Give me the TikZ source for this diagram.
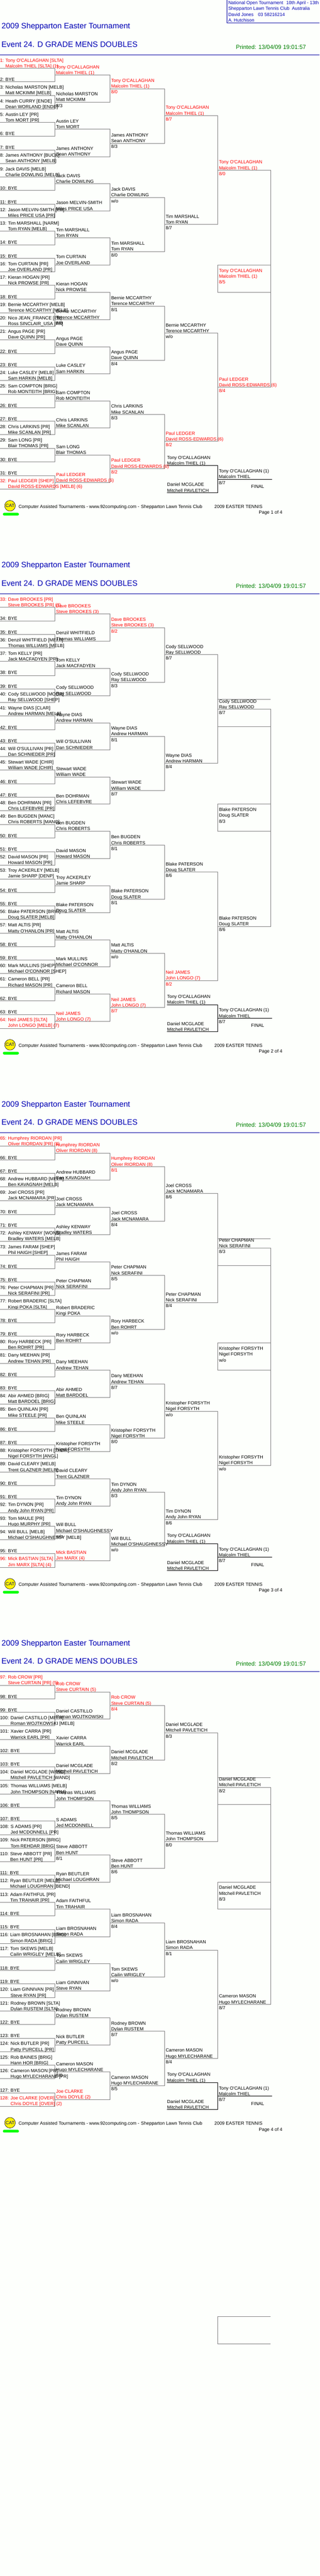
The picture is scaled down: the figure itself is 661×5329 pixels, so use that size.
\documentclass[tikz,border=0pt]{standalone}
\usepackage{fontspec}
\newfontfamily\arialfam{Liberation Sans}
\definecolor{bgc}{HTML}{FDFFFC}
\definecolor{wirec}{HTML}{808080}
\definecolor{headc}{HTML}{0000B4}
\definecolor{rulec}{HTML}{0000A0}
\definecolor{printc}{HTML}{008000}
\definecolor{catc}{HTML}{000080}
\definecolor{barc}{HTML}{00FF00}
\definecolor{redc}{HTML}{FF0000}
\tikzset{
 nm/.style={inner sep=0pt,outer sep=0pt,anchor=base west,font=\arialfam\fontsize{9.5}{12}\selectfont},
 ttl/.style={inner sep=0pt,outer sep=0pt,anchor=base west,text=headc,font=\arialfam\fontsize{16.2}{20}\selectfont},
 prn/.style={inner sep=0pt,outer sep=0pt,anchor=base west,text=printc,font=\arialfam\fontsize{12.2}{14}\selectfont},
 hdr/.style={nm,text=headc},
 wire/.style={draw=wirec,line width=1pt},
 blk/.style={draw=black,line width=1pt},
 hrule/.style={draw=rulec,line width=1pt},
}
\newcounter{slot1}\newcounter{slot2}\newcounter{slot3}\newcounter{slot4}\newcounter{slot5}
\def\EY{{136.7,164.7,192.7,220.7,248.7,276.7,304.7,332.7,361.7,389.7,417.7,445.7,473.7,501.7,529.7,557.7,585.7,613.7,641.7,669.7,697.7,726.7,754.7,782.7,810.7,838.7,866.7,894.7,922.7,950.7,978.7,1006.7}}
\expandafter\def\csname RY1\endcsname{{141.3,169.3,197.3,225.3,253.3,282.3,310.3,338.3,366.3,394.3,422.3,450.3,478.3,506.3,534.3,562.3,590.3,618.3,647.3,675.3,703.3,731.3,759.3,787.3,815.3,843.3,871.3,899.3,927.3,955.3,984.3,1012.3}}
\expandafter\def\csname RY2\endcsname{{155.3,211.3,267.3,324.3,380.3,436.3,492.3,548.3,604.3,661.3,717.3,773.3,829.3,885.3,941.3,998.3}}
\expandafter\def\csname RY3\endcsname{{183.3,296.3,408.3,520.3,633.3,745.3,857.3,969.3}}
\expandafter\def\csname RY4\endcsname{{239.3,464.3,689.3,913.3}}
\expandafter\def\csname RY5\endcsname{{352.3,801.3}}
\def\XA{113.4}\def\XB{227.7}\def\XC{340.2}\def\XD{450.2}\def\XE{560.3}
\expandafter\def\csname XS1\endcsname{0}\expandafter\def\csname XE1\endcsname{\XA}
\expandafter\def\csname XS2\endcsname{\XA}\expandafter\def\csname XE2\endcsname{\XB}\expandafter\def\csname TX2\endcsname{116}
\expandafter\def\csname XS3\endcsname{\XB}\expandafter\def\csname XE3\endcsname{\XC}\expandafter\def\csname TX3\endcsname{230}
\expandafter\def\csname XS4\endcsname{\XC}\expandafter\def\csname XE4\endcsname{\XD}\expandafter\def\csname TX4\endcsname{342.7}
\expandafter\def\csname XS5\endcsname{\XD}\expandafter\def\csname XE5\endcsname{\XE}\expandafter\def\csname TX5\endcsname{453}
% one bracket slot: the line of a slot; every second slot closes the bracket
\newcommand{\SlotLine}[1]{%
 \coordinate (here s) at (\csname XS#1\endcsname,\yL);
 \coordinate (here e) at (\csname XE#1\endcsname,\yL);
 \ifodd\value{slot#1}\relax
  \coordinate (top s#1) at (here s);\coordinate (top e#1) at (here e);
 \else
  \draw[wire] (top s#1) -- (top e#1) -- (here e) -- (here s);
 \fi}
\newcommand{\GetY}[1]{\stepcounter{slot#1}%
 \expandafter\let\expandafter\tmparr\csname RY#1\endcsname
 \pgfmathsetmacro\yL{\tmparr[\the\value{slot#1}-1]}}
\newcommand{\Ent}[4]{% colour, number, name 1, name 2
 \GetY{1}\SlotLine{1}%
 \pgfmathsetmacro\yT{\EY[\the\value{slot1}-1]}%
 \node[nm,text=#1] (e#2a) at (0,{\yT-8.6}) {#2: #3};
 \node[nm,text=#1] (e#2b) at (0,{\yT+3.4}) {\hphantom{#2: }#4};}
\newcommand{\Bye}[1]{%
 \GetY{1}\SlotLine{1}%
 \pgfmathsetmacro\yT{\EY[\the\value{slot1}-1]}%
 \node[nm] (e#1a) at (0,{\yT+3.4}) {#1: BYE};}
\newcommand{\Win}[5]{% round, colour, name 1, name 2, score
 \GetY{#1}\SlotLine{#1}%
 \edef\tx{\csname TX#1\endcsname}%
 \edef\nn{r#1p\pgno n\the\value{slot#1}}%
 \node[nm,text=#2] (\nn a) at (\tx,{\yL-13.4}) {#3};
 \node[nm,text=#2] (\nn b) at (\tx,{\yL-1.4}) {#4};
 \def\tmps{#5}\ifx\tmps\empty\else\node[nm,text=#2] (\nn s) at (\tx,{\yL+10.6}) {#5};\fi}
\newcommand{\Semi}[4]{%
 \coordinate (semi tl) at (\XD,548.3);\coordinate (semi tr) at (\XE,548.3);
 \coordinate (semi bl) at (\XD,604.3);\coordinate (semi br) at (\XE,604.3);
 \draw[wire] (semi tr) -- (semi tl) -- (semi bl) -- (semi br);
 \node[nm,text=#1] (semi\pgno a) at (453,563.1) {#2};
 \node[nm,text=#1] (semi\pgno b) at (453,575.1) {#3};
 \node[nm,text=#1] (semi\pgno s) at (453,587.1) {#4};}
\newcommand{\Stray}{%
 \coordinate (stray tl) at (\XD,332.3);\coordinate (stray tr) at (559.9,332.3);
 \coordinate (stray bl) at (\XD,388.3);\coordinate (stray br) at (\XE,388.3);
 \draw[wire] (stray tr) -- (stray tl) (stray bl) -- (stray br);}
\newcommand{\Frame}[1]{% common page furniture; #1 = page number
 \def\pgno{#1}%
 \setcounter{slot1}{0}\setcounter{slot2}{0}\setcounter{slot3}{0}\setcounter{slot4}{0}\setcounter{slot5}{0}%
 \node[ttl] (title#1) at (3.4,59.4) {2009 Shepparton Easter Tournament};
 \node[ttl] (event#1) at (3,97.2) {Event 24. D GRADE MENS DOUBLES};
 \node[prn] (print#1) at (488,101.6) {Printed: 13/04/09 19:01:57};
 \coordinate (rule l) at (0,113.3);\coordinate (rule r) at (661,113.3);
 \draw[hrule] (rule l) -- (rule r);
 % final block
 \node[nm] (fa#1) at (345.7,950.1) {Tony O'CALLAGHAN};
 \node[nm] (fb#1) at (345.7,962.1) {Malcolm THIEL (1)};
 \node[nm] (fc#1) at (345.7,1006.1) {Daniel MCGLADE};
 \node[nm] (fd#1) at (345.7,1018.1) {Mitchell PAVLETICH};
 \node[nm] (fe#1) at (452.8,978.1) {Tony O'CALLAGHAN (1)};
 \node[nm] (ff#1) at (452.8,990.1) {Malcolm THIEL};
 \node[nm] (fg#1) at (452.8,1002.1) {8/7};
 \node[nm] (fh#1) at (519.4,1010.1) {FINAL};
 \coordinate (fin a) at (345.7,963.3);\coordinate (fin b) at (\XD,963.3);
 \coordinate (fin c) at (\XD,1019.3);\coordinate (fin d) at (345.7,1019.3);
 \coordinate (fin e) at (\XD,991.3);\coordinate (fin f) at (562.8,991.3);
 \draw[blk] (fin a) -- (fin b) -- (fin c) -- (fin d);
 \draw[blk] (fin e) -- (fin f);
 % footer
 \fill[barc,rounded corners=2.8pt] (5.9,1060.9) rectangle (39.2,1066.5);
 \node[circle,draw=black,fill=yellow,line width=0.6pt,minimum size=22pt,inner sep=0pt,text=catc,font=\arialfam\fontsize{9.5}{12}\selectfont] (cat#1) at (20.7,1046.3) {CAT};
 \node[nm] (fta#1) at (38.4,1051.1) {Computer Assisted Tournaments - www.92computing.com -};
 \node[nm] (ftb#1) at (291.7,1051.1) {Shepparton Lawn Tennis Club};
 \node[nm] (ftc#1) at (443.5,1051.1) {2009 EASTER TENNIS};
 \node[nm] (ftd#1) at (535.4,1063.1) {Page #1 of 4};
}
\begin{document}
\begin{tikzpicture}[x=1pt,y=-1pt]
\useasboundingbox (0,0) rectangle (661,5329);
\fill[bgc] (0,0) rectangle (661,5329);
% ---------- top box
\coordinate (box a) at (469.6,0);\coordinate (box b) at (469.6,47.7);\coordinate (box c) at (661,47.7);
\draw[hrule] (box a) -- (box b) -- (box c);
\node[hdr] (tb1) at (472.2,9.1) {National Open Tournament};
\node[hdr] (tb1b) at (592.3,9.1) {10th April - 13th};
\node[hdr] (tb2) at (472.2,21.1) {Shepparton Lawn Tennis Club};
\node[hdr] (tb2b) at (604,21.1) {Australia};
\node[hdr] (tb3) at (472.2,33.1) {David Jones};
\node[hdr] (tb3b) at (533.7,33.1) {03 58216214};
\node[hdr] (tb4) at (472.2,45.1) {A. Hutchison};
% ---------- PAGE 1
\begin{scope}
\Frame{1}
\Ent{redc}{1}{Tony O'CALLAGHAN [SLTA]}{Malcolm THIEL [SLTA] (1)}
\Bye{2}
\Ent{black}{3}{Nicholas MARSTON [MELB]}{Matt MCKIMM [MELB]}
\Ent{black}{4}{Heath CURRY [ENDE]}{Dean WORLAND [ENDE]}
\Ent{black}{5}{Austin LEY [PR]}{Tom MORT [PR]}
\Bye{6}
\Bye{7}
\Ent{black}{8}{James ANTHONY [BUCK]}{Sean ANTHONY [MELB]}
\Ent{black}{9}{Jack DAVIS [MELB]}{Charlie DOWLING [MELB]}
\Bye{10}
\Bye{11}
\Ent{black}{12}{Jason MELVIN-SMITH [PR]}{Miles PRICE USA [PR]}
\Ent{black}{13}{Tim MARSHALL [NARM]}{Tom RYAN [MELB]}
\Bye{14}
\Bye{15}
\Ent{black}{16}{Tom CURTAIN [PR]}{Joe OVERLAND [PR]}
\Ent{black}{17}{Kieran HOGAN [PR]}{Nick PROWSE [PR]}
\Bye{18}
\Ent{black}{19}{Bernie MCCARTHY [MELB]}{Terence MCCARTHY [MELB]}
\Ent{black}{20}{Nico JEAN\_FRANCE [PR]}{Ross SINCLAIR\_USA [PR]}
\Ent{black}{21}{Angus PAGE [PR]}{Dave QUINN [PR]}
\Bye{22}
\Bye{23}
\Ent{black}{24}{Luke CASLEY [MELB]}{Sam HARKIN [MELB]}
\Ent{black}{25}{Sam COMPTON [BRIG]}{Rob MONTEITH [BRIG]}
\Bye{26}
\Bye{27}
\Ent{black}{28}{Chris LARKINS [PR]}{Mike SCANLAN [PR]}
\Ent{black}{29}{Sam LONG [PR]}{Blair THOMAS [PR]}
\Bye{30}
\Bye{31}
\Ent{redc}{32}{Paul LEDGER [SHEP]}{David ROSS-EDWARDS [MELB] (6)}
\Win{2}{redc}{Tony O'CALLAGHAN}{Malcolm THIEL (1)}{}
\Win{2}{black}{Nicholas MARSTON}{Matt MCKIMM}{8/3}
\Win{2}{black}{Austin LEY}{Tom MORT}{}
\Win{2}{black}{James ANTHONY}{Sean ANTHONY}{}
\Win{2}{black}{Jack DAVIS}{Charlie DOWLING}{}
\Win{2}{black}{Jason MELVIN-SMITH}{Miles PRICE USA}{}
\Win{2}{black}{Tim MARSHALL}{Tom RYAN}{}
\Win{2}{black}{Tom CURTAIN}{Joe OVERLAND}{}
\Win{2}{black}{Kieran HOGAN}{Nick PROWSE}{}
\Win{2}{black}{Bernie MCCARTHY}{Terence MCCARTHY}{8/0}
\Win{2}{black}{Angus PAGE}{Dave QUINN}{}
\Win{2}{black}{Luke CASLEY}{Sam HARKIN}{}
\Win{2}{black}{Sam COMPTON}{Rob MONTEITH}{}
\Win{2}{black}{Chris LARKINS}{Mike SCANLAN}{}
\Win{2}{black}{Sam LONG}{Blair THOMAS}{}
\Win{2}{redc}{Paul LEDGER}{David ROSS-EDWARDS (6)}{}
\Win{3}{redc}{Tony O'CALLAGHAN}{Malcolm THIEL (1)}{8/0}
\Win{3}{black}{James ANTHONY}{Sean ANTHONY}{8/3}
\Win{3}{black}{Jack DAVIS}{Charlie DOWLING}{w/o}
\Win{3}{black}{Tim MARSHALL}{Tom RYAN}{8/0}
\Win{3}{black}{Bernie MCCARTHY}{Terence MCCARTHY}{8/1}
\Win{3}{black}{Angus PAGE}{Dave QUINN}{8/4}
\Win{3}{black}{Chris LARKINS}{Mike SCANLAN}{8/3}
\Win{3}{redc}{Paul LEDGER}{David ROSS-EDWARDS (6)}{8/2}
\Win{4}{redc}{Tony O'CALLAGHAN}{Malcolm THIEL (1)}{8/7}
\Win{4}{black}{Tim MARSHALL}{Tom RYAN}{8/7}
\Win{4}{black}{Bernie MCCARTHY}{Terence MCCARTHY}{w/o}
\Win{4}{redc}{Paul LEDGER}{David ROSS-EDWARDS (6)}{8/2}
\Win{5}{redc}{Tony O'CALLAGHAN}{Malcolm THIEL (1)}{8/0}
\Win{5}{redc}{Paul LEDGER}{David ROSS-EDWARDS (6)}{8/4}
\Semi{redc}{Tony O'CALLAGHAN}{Malcolm THIEL (1)}{8/5}
\end{scope}
% ---------- PAGE 2
\begin{scope}[yshift=-1115pt]
\Frame{2}\Stray
\Ent{redc}{33}{Dave BROOKES [PR]}{Steve BROOKES [PR] (3)}
\Bye{34}
\Bye{35}
\Ent{black}{36}{Denzil WHITFIELD [MELB]}{Thomas WILLIAMS [MELB]}
\Ent{black}{37}{Tom KELLY [PR]}{Jack MACFADYEN [PR]}
\Bye{38}
\Bye{39}
\Ent{black}{40}{Cody SELLWOOD [MOOR]}{Ray SELLWOOD [SHEP]}
\Ent{black}{41}{Wayne DIAS [CLAR]}{Andrew HARMAN [MELB]}
\Bye{42}
\Bye{43}
\Ent{black}{44}{Will O'SULLIVAN [PR]}{Dan SCHNIEDER [PR]}
\Ent{black}{45}{Stewart WADE [CHIR]}{William WADE [CHIR]}
\Bye{46}
\Bye{47}
\Ent{black}{48}{Ben DOHRMAN [PR]}{Chris LEFEBVRE [PR]}
\Ent{black}{49}{Ben BUGDEN [MANC]}{Chris ROBERTS [MANC]}
\Bye{50}
\Bye{51}
\Ent{black}{52}{David MASON [PR]}{Howard MASON [PR]}
\Ent{black}{53}{Troy ACKERLEY [MELB]}{Jamie SHARP [DENP]}
\Bye{54}
\Bye{55}
\Ent{black}{56}{Blake PATERSON [BRIG]}{Doug SLATER [MELB]}
\Ent{black}{57}{Matt ALTIS [PR]}{Matty O'HANLON [PR]}
\Bye{58}
\Bye{59}
\Ent{black}{60}{Mark MULLINS [SHEP]}{Michael O'CONNOR [SHEP]}
\Ent{black}{61}{Cameron BELL [PR]}{Richard MASON [PR]}
\Bye{62}
\Bye{63}
\Ent{redc}{64}{Neil JAMES [SLTA]}{John LONGO [MELB] (7)}
\Win{2}{redc}{Dave BROOKES}{Steve BROOKES (3)}{}
\Win{2}{black}{Denzil WHITFIELD}{Thomas WILLIAMS}{}
\Win{2}{black}{Tom KELLY}{Jack MACFADYEN}{}
\Win{2}{black}{Cody SELLWOOD}{Ray SELLWOOD}{}
\Win{2}{black}{Wayne DIAS}{Andrew HARMAN}{}
\Win{2}{black}{Will O'SULLIVAN}{Dan SCHNIEDER}{}
\Win{2}{black}{Stewart WADE}{William WADE}{}
\Win{2}{black}{Ben DOHRMAN}{Chris LEFEBVRE}{}
\Win{2}{black}{Ben BUGDEN}{Chris ROBERTS}{}
\Win{2}{black}{David MASON}{Howard MASON}{}
\Win{2}{black}{Troy ACKERLEY}{Jamie SHARP}{}
\Win{2}{black}{Blake PATERSON}{Doug SLATER}{}
\Win{2}{black}{Matt ALTIS}{Matty O'HANLON}{}
\Win{2}{black}{Mark MULLINS}{Michael O'CONNOR}{}
\Win{2}{black}{Cameron BELL}{Richard MASON}{}
\Win{2}{redc}{Neil JAMES}{John LONGO (7)}{}
\Win{3}{redc}{Dave BROOKES}{Steve BROOKES (3)}{8/2}
\Win{3}{black}{Cody SELLWOOD}{Ray SELLWOOD}{8/3}
\Win{3}{black}{Wayne DIAS}{Andrew HARMAN}{8/1}
\Win{3}{black}{Stewart WADE}{William WADE}{8/7}
\Win{3}{black}{Ben BUGDEN}{Chris ROBERTS}{8/1}
\Win{3}{black}{Blake PATERSON}{Doug SLATER}{8/1}
\Win{3}{black}{Matt ALTIS}{Matty O'HANLON}{w/o}
\Win{3}{redc}{Neil JAMES}{John LONGO (7)}{8/7}
\Win{4}{black}{Cody SELLWOOD}{Ray SELLWOOD}{8/7}
\Win{4}{black}{Wayne DIAS}{Andrew HARMAN}{8/4}
\Win{4}{black}{Blake PATERSON}{Doug SLATER}{8/6}
\Win{4}{redc}{Neil JAMES}{John LONGO (7)}{8/2}
\Win{5}{black}{Cody SELLWOOD}{Ray SELLWOOD}{8/7}
\Win{5}{black}{Blake PATERSON}{Doug SLATER}{8/6}
\Semi{black}{Blake PATERSON}{Doug SLATER}{8/3}
\end{scope}
% ---------- PAGE 3
\begin{scope}[yshift=-2230pt]
\Frame{3}\Stray
\Ent{redc}{65}{Humphrey RIORDAN [PR]}{Oliver RIORDAN [PR] (8)}
\Bye{66}
\Bye{67}
\Ent{black}{68}{Andrew HUBBARD [MELB]}{Ben KAVAGNAH [MELB]}
\Ent{black}{69}{Joel CROSS [PR]}{Jack MCNAMARA [PR]}
\Bye{70}
\Bye{71}
\Ent{black}{72}{Ashley KENWAY [WONS]}{Bradley WATERS [MELB]}
\Ent{black}{73}{James FARAM [SHEP]}{Phil HAIGH [SHEP]}
\Bye{74}
\Bye{75}
\Ent{black}{76}{Peter CHAPMAN [PR]}{Nick SERAFINI [PR]}
\Ent{black}{77}{Robert BRADERIC [SLTA]}{Kingi POKA [SLTA]}
\Bye{78}
\Bye{79}
\Ent{black}{80}{Rory HARBECK [PR]}{Ben ROHRT [PR]}
\Ent{black}{81}{Dany MEEHAN [PR]}{Andrew TEHAN [PR]}
\Bye{82}
\Bye{83}
\Ent{black}{84}{Abir AHMED [BRIG]}{Matt BARDOEL [BRIG]}
\Ent{black}{85}{Ben QUINLAN [PR]}{Mike STEELE [PR]}
\Bye{86}
\Bye{87}
\Ent{black}{88}{Kristopher FORSYTH [THOR]}{Nigel FORSYTH [ANGL]}
\Ent{black}{89}{David CLEARY [MELB]}{Trent GLAZNER [MELB]}
\Bye{90}
\Bye{91}
\Ent{black}{92}{Tim DYNON [PR]}{Andy  John RYAN [PR]}
\Ent{black}{93}{Tom MAULE [PR]}{Hugo MURPHY [PR]}
\Ent{black}{94}{Will BULL [MELB]}{Michael O'SHAUGHNESSY [MELB]}
\Bye{95}
\Ent{redc}{96}{Mick BASTIAN [SLTA]}{Jim MARX [SLTA] (4)}
\Win{2}{redc}{Humphrey RIORDAN}{Oliver RIORDAN (8)}{}
\Win{2}{black}{Andrew HUBBARD}{Ben KAVAGNAH}{}
\Win{2}{black}{Joel CROSS}{Jack MCNAMARA}{}
\Win{2}{black}{Ashley KENWAY}{Bradley WATERS}{}
\Win{2}{black}{James FARAM}{Phil HAIGH}{}
\Win{2}{black}{Peter CHAPMAN}{Nick SERAFINI}{}
\Win{2}{black}{Robert BRADERIC}{Kingi POKA}{}
\Win{2}{black}{Rory HARBECK}{Ben ROHRT}{}
\Win{2}{black}{Dany MEEHAN}{Andrew TEHAN}{}
\Win{2}{black}{Abir AHMED}{Matt BARDOEL}{}
\Win{2}{black}{Ben QUINLAN}{Mike STEELE}{}
\Win{2}{black}{Kristopher FORSYTH}{Nigel FORSYTH}{}
\Win{2}{black}{David CLEARY}{Trent GLAZNER}{}
\Win{2}{black}{Tim DYNON}{Andy  John RYAN}{}
\Win{2}{black}{Will BULL}{Michael O'SHAUGHNESSY}{w/o}
\Win{2}{redc}{Mick BASTIAN}{Jim MARX (4)}{}
\Win{3}{redc}{Humphrey RIORDAN}{Oliver RIORDAN (8)}{8/1}
\Win{3}{black}{Joel CROSS}{Jack MCNAMARA}{8/4}
\Win{3}{black}{Peter CHAPMAN}{Nick SERAFINI}{8/5}
\Win{3}{black}{Rory HARBECK}{Ben ROHRT}{w/o}
\Win{3}{black}{Dany MEEHAN}{Andrew TEHAN}{8/7}
\Win{3}{black}{Kristopher FORSYTH}{Nigel FORSYTH}{8/0}
\Win{3}{black}{Tim DYNON}{Andy  John RYAN}{8/3}
\Win{3}{black}{Will BULL}{Michael O'SHAUGHNESSY}{w/o}
\Win{4}{black}{Joel CROSS}{Jack MCNAMARA}{8/6}
\Win{4}{black}{Peter CHAPMAN}{Nick SERAFINI}{8/4}
\Win{4}{black}{Kristopher FORSYTH}{Nigel FORSYTH}{w/o}
\Win{4}{black}{Tim DYNON}{Andy  John RYAN}{8/6}
\Win{5}{black}{Peter CHAPMAN}{Nick SERAFINI}{8/3}
\Win{5}{black}{Kristopher FORSYTH}{Nigel FORSYTH}{w/o}
\Semi{black}{Kristopher FORSYTH}{Nigel FORSYTH}{w/o}
\end{scope}
% ---------- PAGE 4
\begin{scope}[yshift=-3345pt]
\Frame{4}\Stray
\Ent{redc}{97}{Rob CROW [PR]}{Steve CURTAIN [PR] (5)}
\Bye{98}
\Bye{99}
\Ent{black}{100}{Daniel CASTILLO [MELB]}{Roman WOJTKOWSKI [MELB]}
\Ent{black}{101}{Xavier CARRA [PR]}{Warrick EARL [PR]}
\Bye{102}
\Bye{103}
\Ent{black}{104}{Daniel MCGLADE [WAND]}{Mitchell PAVLETICH [WAND]}
\Ent{black}{105}{Thomas WILLIAMS [MELB]}{John THOMPSON [NARM]}
\Bye{106}
\Bye{107}
\Ent{black}{108}{S ADAMS [PR]}{Jed MCDONNELL [PR]}
\Ent{black}{109}{Nick PATERSON [BRIG]}{Tom REHDAR [BRIG]}
\Ent{black}{110}{Steve ABBOTT [PR]}{Ben HUNT [PR]}
\Bye{111}
\Ent{black}{112}{Ryan BEUTLER [MELB]}{Michael LOUGHRAN [BEND]}
\Ent{black}{113}{Adam FAITHFUL [PR]}{Tim TRAHAIR [PR]}
\Bye{114}
\Bye{115}
\Ent{black}{116}{Liam BROSNAHAN [BRIG]}{Simon RADA [BRIG]}
\Ent{black}{117}{Tom SKEWS [MELB]}{Cailin WRIGLEY [MELB]}
\Bye{118}
\Bye{119}
\Ent{black}{120}{Liam GINNIVAN [PR]}{Steve RYAN [PR]}
\Ent{black}{121}{Rodney BROWN [SLTA]}{Dylan RUSTEM [SLTA]}
\Bye{122}
\Bye{123}
\Ent{black}{124}{Nick BUTLER [PR]}{Patty PURCELL [PR]}
\Ent{black}{125}{Rob BAINES [BRIG]}{Hann HOR [BRIG]}
\Ent{black}{126}{Cameron MASON [PR]}{Hugo MYLECHARANE [PR]}
\Bye{127}
\Ent{redc}{128}{Joe CLARKE [OVER]}{Chris DOYLE [OVER] (2)}
\Win{2}{redc}{Rob CROW}{Steve CURTAIN (5)}{}
\Win{2}{black}{Daniel CASTILLO}{Roman WOJTKOWSKI}{}
\Win{2}{black}{Xavier CARRA}{Warrick EARL}{}
\Win{2}{black}{Daniel MCGLADE}{Mitchell PAVLETICH}{}
\Win{2}{black}{Thomas WILLIAMS}{John THOMPSON}{}
\Win{2}{black}{S ADAMS}{Jed MCDONNELL}{}
\Win{2}{black}{Steve ABBOTT}{Ben HUNT}{8/1}
\Win{2}{black}{Ryan BEUTLER}{Michael LOUGHRAN}{}
\Win{2}{black}{Adam FAITHFUL}{Tim TRAHAIR}{}
\Win{2}{black}{Liam BROSNAHAN}{Simon RADA}{}
\Win{2}{black}{Tom SKEWS}{Cailin WRIGLEY}{}
\Win{2}{black}{Liam GINNIVAN}{Steve RYAN}{}
\Win{2}{black}{Rodney BROWN}{Dylan RUSTEM}{}
\Win{2}{black}{Nick BUTLER}{Patty PURCELL}{}
\Win{2}{black}{Cameron MASON}{Hugo MYLECHARANE}{8/0}
\Win{2}{redc}{Joe CLARKE}{Chris DOYLE (2)}{}
\Win{3}{redc}{Rob CROW}{Steve CURTAIN (5)}{8/4}
\Win{3}{black}{Daniel MCGLADE}{Mitchell PAVLETICH}{8/2}
\Win{3}{black}{Thomas WILLIAMS}{John THOMPSON}{8/5}
\Win{3}{black}{Steve ABBOTT}{Ben HUNT}{8/6}
\Win{3}{black}{Liam BROSNAHAN}{Simon RADA}{8/4}
\Win{3}{black}{Tom SKEWS}{Cailin WRIGLEY}{w/o}
\Win{3}{black}{Rodney BROWN}{Dylan RUSTEM}{8/7}
\Win{3}{black}{Cameron MASON}{Hugo MYLECHARANE}{8/5}
\Win{4}{black}{Daniel MCGLADE}{Mitchell PAVLETICH}{8/3}
\Win{4}{black}{Thomas WILLIAMS}{John THOMPSON}{8/0}
\Win{4}{black}{Liam BROSNAHAN}{Simon RADA}{8/1}
\Win{4}{black}{Cameron MASON}{Hugo MYLECHARANE}{8/4}
\Win{5}{black}{Daniel MCGLADE}{Mitchell PAVLETICH}{8/2}
\Win{5}{black}{Cameron MASON}{Hugo MYLECHARANE}{8/7}
\Semi{black}{Daniel MCGLADE}{Mitchell PAVLETICH}{8/3}
\end{scope}
% ---------- stray box below page 4
\coordinate (last a) at (559.9,4792.3);\coordinate (last b) at (\XD,4792.3);
\coordinate (last c) at (\XD,4848.3);\coordinate (last d) at (559.9,4848.3);
\draw[wire] (last a) -- (last b) -- (last c) -- (last d);
\end{tikzpicture}
\end{document}
